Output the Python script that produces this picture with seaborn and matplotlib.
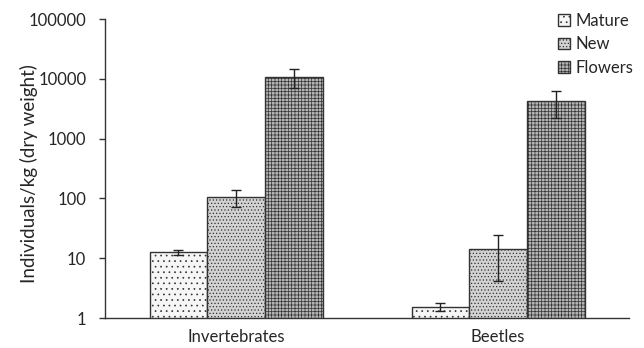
import matplotlib
matplotlib.use("Agg")
import matplotlib.pyplot as plt
import matplotlib.ticker as mticker
from matplotlib.patches import Patch
import pandas as pd
import seaborn as sns

# values (log scale)
groups = ['Invertebrates', 'Beetles']
series = ['Mature', 'New', 'Flowers']
means = {
    'Mature': [12.6, 1.55],
    'New': [104, 14.1],
    'Flowers': [10800, 4300],
}
errs = {
    'Mature': [1.3, 0.24],
    'New': [33, 10],
    'Flowers': [3800, 2100],
}
yticks = [1, 10, 100, 1000, 10000, 100000]

rows = []
for s in series:
    for g, m, e in zip(groups, means[s], errs[s]):
        rows.append({'group': g, 'series': s, 'value': m, 'err': e})
df = pd.DataFrame(rows)

sns.set_theme(style="white")
plt.rcParams['font.family'] = ['Lato', 'DejaVu Sans']
plt.rcParams['hatch.color'] = '#808080'
plt.rcParams['hatch.linewidth'] = 0.5

fig = plt.figure(figsize=(6.44, 3.48), dpi=100)
ax = fig.add_axes([0.163, 0.086, 0.814, 0.859])

colors = {'Mature': '#f6f6f6', 'New': '#d2d2d2', 'Flowers': '#b4b4b4'}
hatches = {'Mature': '...', 'New': '.....', 'Flowers': '+++++'}

sns.barplot(data=df, x='group', y='value', hue='series', hue_order=series,
            order=groups, palette=colors, errorbar=None, width=0.66,
            edgecolor='#333333', linewidth=1.0, saturation=1, legend=False,
            ax=ax)
ax.set_yscale('log')

# hatch and error bars on each bar, positions from seaborn's bars
for container, s in zip(ax.containers, series):
    sub = df[df['series'] == s].set_index('group').loc[groups]
    xs = []
    for bar in container:
        bar.set_hatch(hatches[s])
        xs.append(bar.get_x() + bar.get_width() / 2)
    ax.errorbar(xs, sub['value'], yerr=sub['err'], fmt='none',
                ecolor='#222222', elinewidth=1.0, capsize=3.5, capthick=1.0)

ax.set_ylim(1, 100000)
ax.set_xlim(-0.5, 1.5)
ax.set_yticks(yticks)
ax.yaxis.set_major_formatter(mticker.FuncFormatter(lambda v, p: f"{int(v)}"))
ax.yaxis.set_minor_locator(mticker.NullLocator())
ax.set_xticks([-0.5, 0.5, 1.5], minor=True)
ax.tick_params(axis='x', which='major', length=0, labelsize=12, pad=8)
ax.tick_params(axis='x', which='minor', length=4, width=1, color='#333333',
               direction='out')
ax.tick_params(axis='y', which='major', length=4.5, width=1, color='#333333',
               direction='out', left=True, labelsize=12, pad=9)
ax.set_xlabel('')
ax.set_ylabel('Individuals/kg (dry weight)', fontsize=13.5)
ax.yaxis.set_label_coords(-0.128, 0.485)

for sp in ['top', 'right']:
    ax.spines[sp].set_visible(False)
for sp in ['left', 'bottom']:
    ax.spines[sp].set_color('#333333')
    ax.spines[sp].set_linewidth(1.0)

handles = [Patch(facecolor=colors[s], edgecolor='#333333', hatch=hatches[s],
                 label=s) for s in series]
ax.legend(handles=handles, loc='upper right', bbox_to_anchor=(1.02, 1.043),
          frameon=False, fontsize=12, handlelength=0.7, handleheight=0.7,
          handletextpad=0.3, labelspacing=0.44, borderaxespad=0)

fig.savefig('out.png', dpi=100)
